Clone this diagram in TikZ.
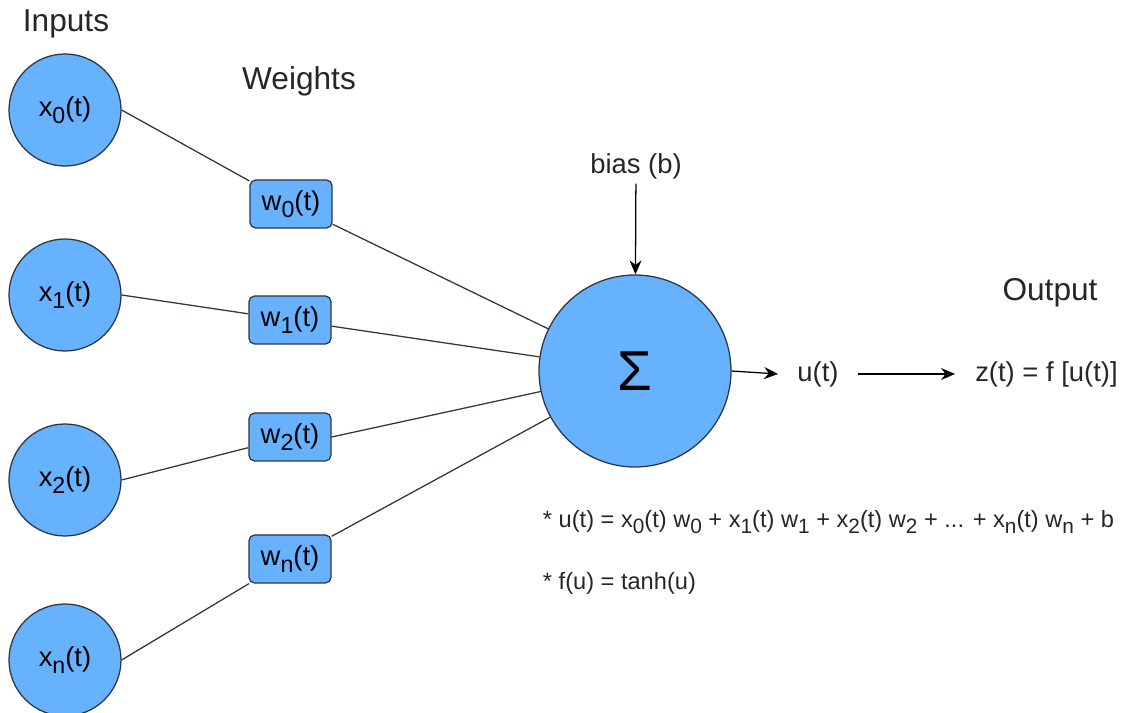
\documentclass[tikz,border=0pt]{standalone}
\usepackage{fontspec}
\setmainfont{Liberation Sans}
\usepackage{tikz}
\usetikzlibrary{arrows.meta,positioning}
\definecolor{neuronblue}{HTML}{66B2FF}
\definecolor{edgegrey}{HTML}{2E3640}
\newcommand{\idx}[2][16.5]{\raisebox{-0.45ex}{\fontsize{#1}{#1}\selectfont #2}}

\begin{document}
\begin{tikzpicture}[
    font=\fontsize{19.5}{22}\selectfont,
    inputnode/.style={circle, draw=edgegrey, line width=0.9pt, fill=neuronblue, minimum size=2.8cm, inner sep=0pt},
    weightnode/.style={rectangle, rounded corners=4pt, draw=edgegrey, line width=0.9pt, fill=neuronblue, minimum width=2.05cm, minimum height=1.2cm, inner sep=0pt},
    sumnode/.style={circle, draw=edgegrey, line width=0.9pt, fill=neuronblue, minimum size=4.8cm, inner sep=0pt, font=\fontsize{40}{44}\selectfont},
    link/.style={draw=edgegrey, line width=0.9pt},
    flow/.style={draw=black, line width=0.9pt, -{Stealth[length=3.5mm, width=3mm]}},
    label/.style={draw=none, fill=none, text=black!85},
    title/.style={label, font=\fontsize{22.5}{26}\selectfont}
]
\useasboundingbox (0,0) rectangle (28.1,17.8);

% Inputs
\node[title] (inputstitle) at (1.65, 17.2) {Inputs};
\node[inputnode] (x0) at (1.625, 15.05) {x\idx{0}(t)};
\node[inputnode] (x1) at (1.625, 10.425) {x\idx{1}(t)};
\node[inputnode] (x2) at (1.625, 5.8) {x\idx{2}(t)};
\node[inputnode] (xn) at (1.625, 1.3) {x\idx{n}(t)};

% Weights
\node[title] (weightstitle) at (7.475, 15.775) {Weights};
\node[weightnode] (w0) at (7.275, 12.7) {w\idx{0}(t)};
\node[weightnode] (w1) at (7.25, 9.8) {w\idx{1}(t)};
\node[weightnode] (w2) at (7.25, 6.875) {w\idx{2}(t)};
\node[weightnode] (wn) at (7.25, 3.825) {w\idx{n}(t)};

% Summation
\node[sumnode] (sum) at (15.875, 8.525) {Σ};
\node[label] (bias) at (15.9, 13.65) {bias (b)};

\draw[link] (x0.east) -- (w0);
\draw[link] (x1.east) -- (w1);
\draw[link] (x2.east) -- (w2);
\draw[link] (xn.east) -- (wn);
\draw[link] (w0) -- (sum);
\draw[link] (w1) -- (sum);
\draw[link] (w2.east) -- (sum);
\draw[link] (wn) -- (sum);
\draw[flow] (bias) -- (sum);

% Output
\node[label, inner xsep=0.475cm] (u) at (20.45, 8.45) {u(t)};
\node[label, inner xsep=0.5cm, anchor=west] (z) at (23.875, 8.45) {z(t) = f [u(t)]};
\node[title] (outputtitle) at (26.25, 10.475) {Output};
\draw[flow] (sum.east) -- (u.west);
\draw[flow] (u.east) -- (z.west);

% Formulas
\node[label, anchor=west, font=\fontsize{16.8}{19}\selectfont] (ueq) at (13.45, 4.75)
    {* u(t) = x\idx[14.8]{0}(t) w\idx[14.8]{0} + x\idx[14.8]{1}(t) w\idx[14.8]{1} + x\idx[14.8]{2}(t) w\idx[14.8]{2} + ... + x\idx[14.8]{n}(t) w\idx[14.8]{n} + b};
\node[label, anchor=west, font=\fontsize{16.8}{19}\selectfont] (feq) at (13.45, 3.225) {* f(u) = tanh(u)};
\end{tikzpicture}
\end{document}
